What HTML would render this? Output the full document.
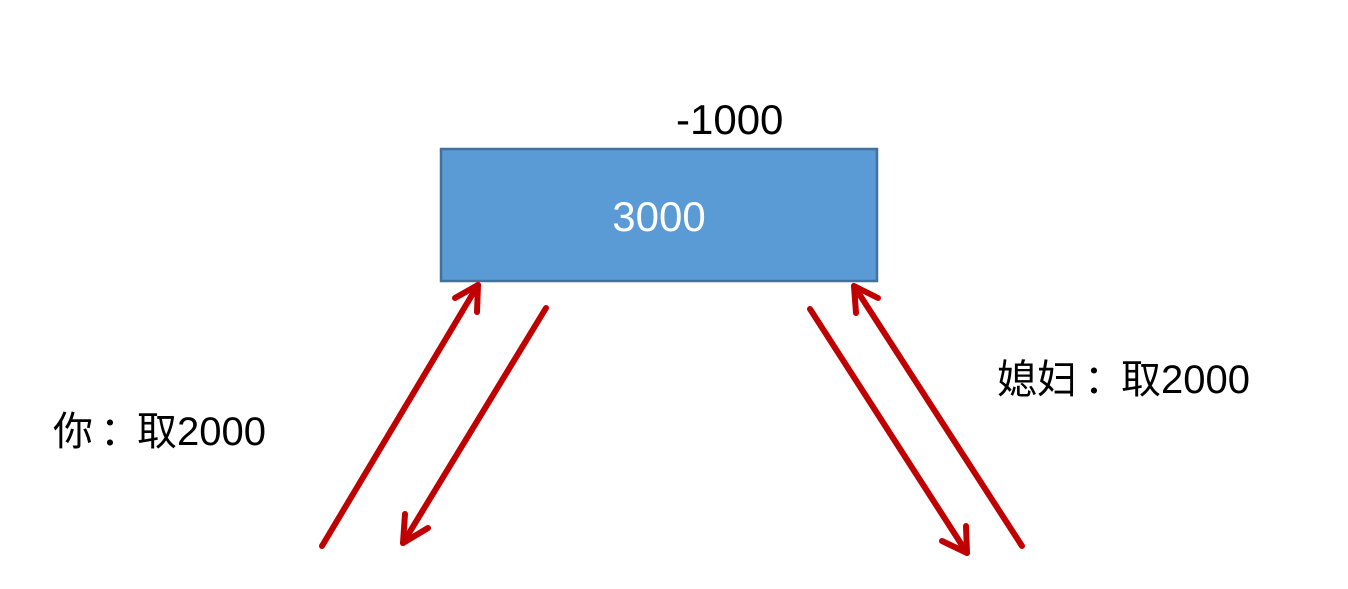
<!DOCTYPE html>
<html><head><meta charset="utf-8"><style>
body{margin:0;width:1348px;height:589px;background:#fff;overflow:hidden;position:relative;font-family:"Liberation Sans","Noto Sans CJK SC",sans-serif}
.t{position:absolute;font-size:40px;line-height:1;color:#000;white-space:nowrap}
.c{display:inline-block;margin:0 -3px 0 7px}
</style></head><body>
<svg width="1348" height="589" style="position:absolute;left:0;top:0">
<rect x="441" y="149" width="436" height="132" fill="#5b9bd5" stroke="#41719c" stroke-width="2.5"/>
<g stroke="#c00000" stroke-width="6" fill="none" stroke-linecap="round" stroke-linejoin="round">
<line x1="322" y1="546" x2="478" y2="285"/>
<polyline points="455,298 478,285 477,312"/>
<line x1="546" y1="308" x2="403" y2="543"/>
<polyline points="405,514 403,543 428,528"/>
<line x1="810" y1="309" x2="967" y2="553"/>
<polyline points="942,541 967,553 966,526"/>
<line x1="1022" y1="546" x2="854" y2="286"/>
<polyline points="856,313 854,286 878,298"/>
</g>
<text x="659" y="231" text-anchor="middle" font-family="Liberation Sans, sans-serif" font-size="42" fill="#fff">3000</text>
</svg>
<div class="t" style="left:676px;top:99px;font-size:42px">-1000</div>
<div class="t" style="left:53px;top:412px">你<span class="c">：</span>取2000</div>
<div class="t" style="left:997px;top:360px">媳妇<span class="c">：</span>取2000</div>
</body></html>
